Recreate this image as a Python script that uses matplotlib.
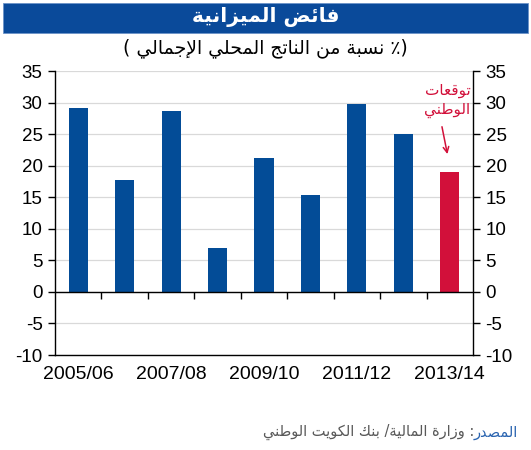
import matplotlib
matplotlib.use('Agg')
import matplotlib.pyplot as plt
from matplotlib.patches import Rectangle

# data
years = ['2005/06', '2006/07', '2007/08', '2008/09', '2009/10',
         '2010/11', '2011/12', '2012/13', '2013/14']
surplus = [29.2, 17.7, 28.7, 7.0, 21.2, 15.4, 29.8, 25.0, 19.0]
forecast = [False] * 8 + [True]
yticks = [35, 30, 25, 20, 15, 10, 5, 0, -5, -10]

title = 'فائض الميزانية'
subtitle = '(٪ نسبة من الناتج المحلي الإجمالي )'
note = 'توقعات\nالوطني'
src_head = 'المصدر'
src_body = ': وزارة المالية/ بنك الكويت الوطني'

# small arabic shaper (no reshaper lib in the sandbox)
FORMS = {
    'ا': (0xFE8D, False), 'إ': (0xFE87, False), 'ب': (0xFE8F, True), 'ة': (0xFE93, False),
    'ت': (0xFE95, True), 'ج': (0xFE9D, True), 'ح': (0xFEA1, True), 'د': (0xFEA9, False),
    'ر': (0xFEAD, False), 'ز': (0xFEAF, False), 'س': (0xFEB1, True), 'ص': (0xFEB9, True),
    'ض': (0xFEBD, True), 'ط': (0xFEC1, True), 'ع': (0xFEC9, True), 'ف': (0xFED1, True),
    'ق': (0xFED5, True), 'ك': (0xFED9, True), 'ل': (0xFEDD, True), 'م': (0xFEE1, True),
    'ن': (0xFEE5, True), 'و': (0xFEED, False), 'ي': (0xFEF1, True), 'ئ': (0xFE89, True),
}
LAM_ALEF = {'ا': 0xFEFB, 'إ': 0xFEF9}


def ar(text):
    units = []
    i = 0
    while i < len(text):
        c = text[i]
        if c == 'ل' and i + 1 < len(text) and text[i + 1] in LAM_ALEF:
            units.append(('LA', LAM_ALEF[text[i + 1]]))
            i += 2
        else:
            units.append((c, None))
            i += 1
    out = []
    for k, (c, lig) in enumerate(units):
        prev = units[k - 1][0] if k > 0 else None
        nxt = units[k + 1][0] if k + 1 < len(units) else None
        join_prev = prev in FORMS and FORMS[prev][1]
        if lig is not None:
            out.append(chr(lig + (1 if join_prev else 0)))
            continue
        if c not in FORMS:
            out.append(c)
            continue
        base, dual = FORMS[c]
        join_next = dual and (nxt in FORMS or nxt == 'LA')
        if join_prev and join_next:
            off = 3
        elif join_prev:
            off = 1
        elif join_next:
            off = 2
        else:
            off = 0
        out.append(chr(base + off))
    vis = ''.join(out)[::-1]
    return vis.translate(str.maketrans('()', ')('))


def ar_lines(text):
    return '\n'.join(ar(t) for t in text.split('\n'))


blue = '#034C97'
red = '#D2103A'

plt.rcParams['font.family'] = ['Liberation Sans', 'DejaVu Sans']
plt.rcParams['axes.unicode_minus'] = False

fig = plt.figure(figsize=(5.31, 4.5), dpi=100)
ax = fig.add_axes([0.1036, 0.2111, 0.7872, 0.6311])

x = list(range(len(years)))
colors = [red if f else blue for f in forecast]
ax.bar(x, surplus, width=0.41, color=colors, zorder=3)

ax.set_xlim(-0.5, len(years) - 0.5)
ax.set_ylim(-10, 35)
ax.set_yticks(yticks)
ax.grid(axis='y', color='#D9D9D9', linewidth=0.9, zorder=0)
ax.tick_params(axis='y', labelsize=13.5, length=5, width=1, direction='out',
               left=True, right=True, labelleft=True, labelright=True, pad=4)

ax.set_xticks(x[::2])
ax.set_xticklabels(years[::2])
ax.tick_params(axis='x', labelsize=14, length=0, pad=8)

ax.spines['top'].set_visible(False)
for s in ['left', 'right', 'bottom']:
    ax.spines[s].set_color('black')
    ax.spines[s].set_linewidth(1)

# zero line with small ticks between categories
ax.axhline(0, color='black', linewidth=1, zorder=4)
bounds = [i + 0.5 for i in x[:-1]]
ax.plot(bounds, [0] * len(bounds), linestyle='none', marker=3, markersize=5,
        color='black', markeredgewidth=1, zorder=4)

# forecast note
ax.text(7.95, 30.3, ar_lines(note), color=red, fontsize=11, ha='center', va='center',
        family='DejaVu Sans', linespacing=1.3)
ax.annotate('', xy=(7.96, 21.4), xytext=(7.82, 26.6),
            arrowprops=dict(arrowstyle='->', color=red, lw=1.1))

# title banner
fig.patches.append(Rectangle((0.0056, 0.9267), 0.9887, 0.0666, transform=fig.transFigure,
                             facecolor='#0A4A9A', edgecolor='#6C93C8', linewidth=0.6))
fig.text(0.5, 0.962, ar(title), color='white', fontsize=14.5, fontweight='bold',
         ha='center', va='center', family='DejaVu Sans')
fig.text(0.5, 0.893, ar(subtitle), color='black', fontsize=13.5,
         ha='center', va='center', family='DejaVu Sans')

# source
t_head = fig.text(0.976, 0.04, ar(src_head), color='#2A64B0', fontsize=10.5,
                  ha='right', va='center', family='DejaVu Sans')
ax.annotate(ar(src_body), xy=(0, 0.5), xycoords=t_head, color='#595959', fontsize=10.5,
            ha='right', va='center', family='DejaVu Sans', annotation_clip=False)

fig.savefig('out.png', dpi=100)
